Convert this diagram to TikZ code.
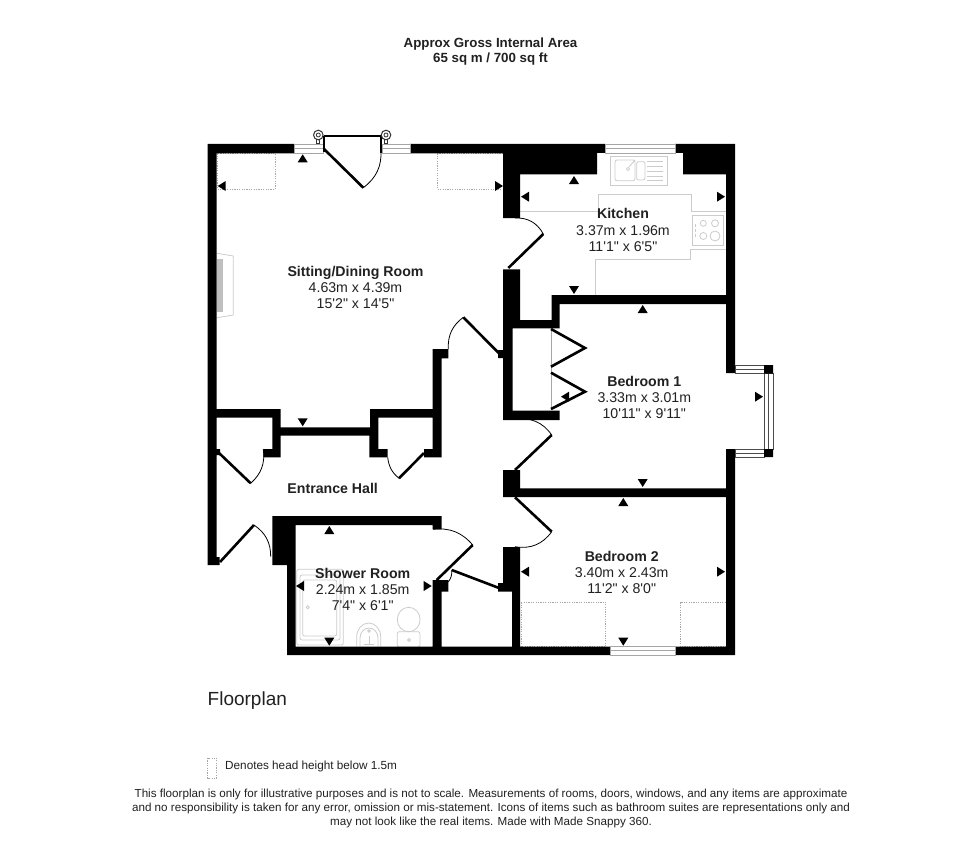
\documentclass[tikz,border=0pt]{standalone}
\usepackage{fontspec}
\setmainfont{Liberation Sans}[Ligatures=TeXOff]
\definecolor{fixture}{gray}{0.8}
\definecolor{inktext}{gray}{0.13}
\tikzset{
  room/.style={align=center,text=inktext,inner sep=0pt,font=\fontsize{14.15}{16.2}\selectfont},
  leaf/.style={line width=2.6pt,black,line cap=butt},
  swing/.style={line width=0.8pt,black},
  fitting/.style={line width=0.8pt,fixture},
  lowroof/.style={line width=0.7pt,gray!70,dash pattern=on 1.2pt off 1.2pt},
  pane/.style={fill=white,draw=gray!70,line width=0.7pt}
}
\begin{document}
\begin{tikzpicture}[x=1pt,y=-1pt]
\useasboundingbox (0,0) rectangle (980,848);
\fill[white] (0,0) rectangle (980,848);
% low ceiling areas
\draw[lowroof] (217,153.5) rectangle (275,189);
\draw[lowroof] (437.3,153.5) rectangle (503,189);
\draw[lowroof] (521,602.3) rectangle (605.7,646.7);
\draw[lowroof] (680.7,602.3) rectangle (726,646.7);
\draw[lowroof] (207.5,758) rectangle (216.5,778);
% fireplace
\draw[fitting] (217,253.3)--(233.3,256)--(233.3,315)--(217,317.7);
\fill[gray!50] (217,259.3) rectangle (223,311.7);
% kitchen worktop
\draw[fitting] (520,211)--(598.3,211)--(598.3,194.3)--(691,194.3)--(691,211)--(726,211);
\draw[fitting] (726,249)--(690,249)--(690,259.3)--(595.3,259.3)--(595.3,295);
% sink
\draw[fitting] (610.7,156) rectangle (667.7,185);
\draw[fitting,rounded corners=2pt] (615,160) rectangle (635,180.7);
\draw[fitting,rounded corners=2pt] (636.7,161.7) rectangle (645,180);
\draw[fitting] (628,169) circle (1.6);
\draw[fitting] (629,167)--(635,160);
\foreach \y in {161,166,171,176,180} \draw[fitting] (647,\y)--(663,\y);
% hob
\draw[fitting] (692.3,215) rectangle (723.3,245);
\foreach \x/\y/\r in {703.3/223.3/3,715/223.3/3.5,703.3/236/3.5,715/236/5}
  \draw[fitting] (\x,\y) circle (\r);
\foreach \y in {224,229,234} \draw[fitting] (695,\y)--(695,\y+3);
% bath
\draw[fitting,rounded corners=2pt] (296.7,569.3) rectangle (343.3,645);
\draw[fitting,rounded corners=2pt] (300,575) rectangle (340,640);
\draw[fitting,rounded corners=2pt] (302.7,580) rectangle (336.7,636);
\draw[fitting] (307.7,607.3) circle (1.5);
% basin
\draw[fitting] (356.7,646.7)--(356.7,637) arc (180:360:12 and 14)--(380.7,646.7);
\draw[fitting] (360,646.7)--(360,638) arc (180:360:9 and 10)--(378,646.7);
\draw[fitting] (369,631) circle (1.2);
\draw[fitting] (364,644)--(374,644) (369,636)--(369,644);
% toilet
\draw[fitting] (408.7,619.5) ellipse (11.4 and 12.2);
\draw[fitting,rounded corners=2pt] (397.3,631.7) rectangle (420,647);
\draw[fitting] (409,640) circle (1.5);
% walls
\fill[black]
  (207.5,144)--(294,144)--(294,153.5)--(216.7,153.5)--(216.7,557)--(219.5,557)--(219.5,565)--(207.5,565)--cycle
  (410,144)--(605,144)--(605,153)--(597,153)--(597,174.3)--(520,174.3)--(520,218)--(503,218)--(503,153.5)--(410,153.5)--cycle
  (675,144)--(735,144)--(735,373)--(726,373)--(726,174.3)--(683,174.3)--(683,153)--(675,153)--cycle
  (503,269.3)--(520,269.3)--(520,320)--(551.5,320)--(551.5,295)--(726,295)--(726,304)--(559.5,304)--(559.5,328.3)--(512.7,328.3)--(512.7,410.7)--(559.5,410.7)--(559.5,420)--(503,420)--cycle
  (498,350) rectangle (503,358)
  (216.7,449) rectangle (220,455)
  (726,449)--(735,449)--(735,655)--(287,655)--(287,565)--(272.3,565)--(272.3,516)--(441.7,516)--(441.7,529.3)--(432.7,529.3)--(432.7,525)--(295.7,525)--(295.7,646.7)--(432.7,646.7)--(432.7,580)--(448.3,580)--(448.3,591.7)--(441.7,591.7)--(441.7,646.7)--(512,646.7)--(512,591.7)--(498,591.7)--(498,583)--(503,583)--(503,547)--(520,547)--(520,646.7)--(726,646.7)--cycle
  (503,470)--(520,470)--(520,488.3)--(726,488.3)--(726,497)--(503,497)--cycle
  (216.7,409)--(280.7,409)--(280.7,427.3)--(370,427.3)--(370,409)--(432.7,409)--(432.7,349)--(448.3,349)--(448.3,358.3)--(441.7,358.3)--(441.7,457.3)--(424,457.3)--(424,449)--(432.7,449)--(432.7,417.7)--(378.3,417.7)--(378.3,449)--(387.7,449)--(387.7,457.3)--(369.3,457.3)--(369.3,435.7)--(280.7,435.7)--(280.7,457.3)--(263.3,457.3)--(263.3,449)--(272.3,449)--(272.3,417.7)--(216.7,417.7)--cycle;
% windows
\foreach \xa/\ya/\xb/\yb in {294/144/323/153.5,382/144/410/153.5,605/144/675/153,610.7/646.7/675.7/655}{
  \draw[pane] (\xa,\ya) rectangle (\xb,\yb);
  \draw[gray!70,line width=1pt] (\xa,{(\ya+\yb)/2})--(\xb,{(\ya+\yb)/2});
}
\foreach \ya/\yb in {365/373.5,449/457}{
  \draw[pane,draw=black!70] (735,\ya) rectangle (764,\yb);
  \draw[black!70,line width=0.8pt] (735,{(\ya+\yb)/2})--(764,{(\ya+\yb)/2});
}
\draw[pane,draw=black!70] (764,373.5) rectangle (773,449);
\draw[black!70,line width=0.8pt] (768.5,373.5)--(768.5,449);
\fill[black] (764,365) rectangle (773,373.5) (764,449) rectangle (773,457);
% cupboard front
\draw[gray!70,line width=0.7pt] (551,328.3)--(551,410.7);
% doors
\draw[leaf] (324,149)--(363.3,187.7);
\draw[swing] (363.3,187.7) to[bend right=28] (381,150);
\draw[leaf] (463.3,317.3)--(499,353.3);
\draw[swing] (463.3,317.3) to[bend right=28] (448.3,349);
\draw[leaf] (508.3,268)--(543.3,234);
\draw[swing] (543.3,234) to[bend right=32] (515,218);
\draw[leaf] (515,470)--(551.7,435);
\draw[swing] (551.7,435) to[bend right=32] (515,419.3);
\draw[leaf] (515,497.3)--(551.7,531.7);
\draw[swing] (551.7,531.7) to[bend left=32] (515,546.7);
\draw[leaf] (219,453)--(250.7,483.3);
\draw[swing] (250.7,483.3) to[bend right=28] (263.3,449);
\draw[leaf] (424,453)--(399,478.3);
\draw[swing] (399,478.3) to[bend left=22] (387.7,457.3);
\draw[leaf] (220,562)--(254,525);
\draw[swing] (254,525) to[bend left=28] (270.7,556.7);
\draw[leaf] (436.7,580)--(472.7,545);
\draw[swing] (472.7,545) to[bend right=28] (433,529.3);
\draw[leaf] (451.7,570)--(499,588);
\draw[swing] (451.7,570) to[bend left=20] (448.3,582);
% folding doors
\draw[leaf,line join=miter] (551,329)--(585,348)--(551,366.7);
\draw[leaf,line join=miter] (551,372.7)--(585,391.7)--(551,409);
% balcony rail
\draw[line width=1.8pt] (324,136)--(381,136);
\draw[line width=1.2pt] (324,136)--(324,152) (381,136)--(381,153);
\foreach \x in {318.3,386}{
  \draw[black!80,line width=1pt] (\x,135) circle (4.8);
  \draw[black!80,line width=0.8pt] (\x,135) circle (2);
  \draw[black!80,line width=0.7pt] (\x-1.5,139.5) rectangle (\x+1.5,143.5);
}
% check marks
\foreach \x/\y in {302.7/158.3,329.3/530,574/180,642.7/309,623.3/502}
  \fill (\x-5,\y+4)--(\x+5,\y+4)--(\x,\y-4)--cycle;
\foreach \x/\y in {302.7/422.3,329.3/641.7,574/290,642.7/483,623.3/641.7}
  \fill (\x-5,\y-4)--(\x+5,\y-4)--(\x,\y+4)--cycle;
\foreach \x/\y in {221.7/186,300/586,525/196.7,565/396.7,525/571.7}
  \fill (\x+4,\y-5)--(\x+4,\y+5)--(\x-4,\y)--cycle;
\foreach \x/\y in {499/186,427.7/586,721/196.7,759/396.7,721/571.7}
  \fill (\x-4,\y-5)--(\x-4,\y+5)--(\x+4,\y)--cycle;
% labels
\node[room,font=\bfseries\fontsize{13.3}{15}\selectfont] (area) at (490.5,52) {Approx Gross Internal Area\\65 sq m / 700 sq ft};
\node[room] (sitting) at (355.5,287.7) {\textbf{Sitting/Dining Room}\\4.63m x 4.39m\\15'2" x 14'5"};
\node[room] (kitchen) at (623,230) {\textbf{Kitchen}\\3.37m x 1.96m\\11'1" x 6'5"};
\node[room] (bedone) at (644.3,397.5) {\textbf{Bedroom 1}\\3.33m x 3.01m\\10'11" x 9'11"};
\node[room] (hall) at (332.7,488) {\textbf{Entrance Hall}};
\node[room] (shower) at (362.7,589.5) {\textbf{Shower Room}\\2.24m x 1.85m\\7'4" x 6'1"};
\node[room] (bedtwo) at (621.7,572.5) {\textbf{Bedroom 2}\\3.40m x 2.43m\\11'2" x 8'0"};
\node[room,anchor=west,font=\fontsize{19}{22}\selectfont] (plan) at (207.5,701) {Floorplan};
\node[room,anchor=west,font=\fontsize{11.75}{14}\selectfont] (legend) at (225,766) {Denotes head height below 1.5m};
\node[room,font=\fontsize{11.65}{14.3}\selectfont] (notes) at (491,808.5) {This floorplan is only for illustrative purposes and is not to scale. Measurements of rooms, doors, windows, and any items are approximate\\and no responsibility is taken for any error, omission or mis-statement. Icons of items such as bathroom suites are representations only and\\may not look like the real items. Made with Made Snappy 360.};
\end{tikzpicture}
\end{document}
